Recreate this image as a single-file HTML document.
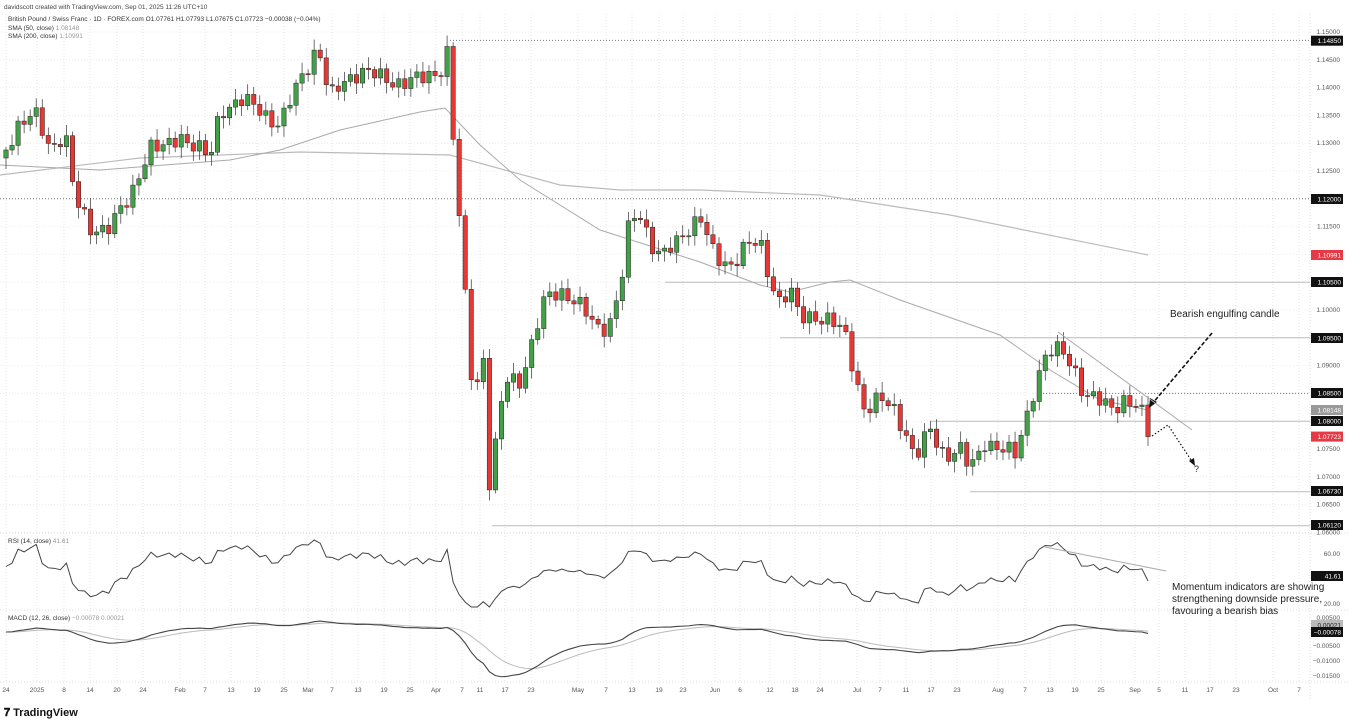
<!DOCTYPE html>
<html><head><meta charset="utf-8"><style>
body{margin:0;background:#fff;width:1350px;height:726px;overflow:hidden;font-family:"Liberation Sans",sans-serif}
svg{position:absolute;left:0;top:0}
</style></head><body>
<svg id="s" width="1350" height="726" xmlns="http://www.w3.org/2000/svg" font-family="Liberation Sans, sans-serif">
<g id="grid"></g>
<g id="lines" fill="none"></g>
<g id="c"></g>
<g id="ind" fill="none"></g>
<g id="ax" font-size="6.5" fill="#555"></g>
<text x="4" y="9" font-size="6.5" fill="#444">davidscott created with TradingView.com, Sep 01, 2025 11:26 UTC+10</text>
<text x="8" y="21" font-size="6.5" fill="#333">British Pound / Swiss Franc · 1D · FOREX.com  O1.07761  H1.07793  L1.07675  C1.07723  −0.00038 (−0.04%)</text>
<text x="8" y="30" font-size="6.5" fill="#333">SMA (50, close) <tspan fill="#999">1.08148</tspan></text>
<text x="8" y="38" font-size="6.5" fill="#333">SMA (200, close) <tspan fill="#999">1.10991</tspan></text>
<text x="8" y="543" font-size="6.5" fill="#333">RSI (14, close) <tspan fill="#999">41.61</tspan></text>
<text x="8" y="620" font-size="6.5" fill="#333">MACD (12, 26, close) <tspan fill="#999">−0.00078  0.00021</tspan></text>
<text x="1170" y="317" font-size="10" fill="#222">Bearish engulfing candle</text>
<text x="1172" y="590" font-size="10" fill="#222">Momentum indicators are showing</text>
<text x="1172" y="602" font-size="10" fill="#222">strengthening downside pressure,</text>
<text x="1172" y="614" font-size="10" fill="#222">favouring a bearish bias</text>
<text x="1194" y="472" font-size="9" fill="#222">?</text>
<line x1="1212" y1="333" x2="1152" y2="404" stroke="#111" stroke-width="1.6" stroke-dasharray="4,2"/>
<polygon points="1149,408 1150,398 1157,402" fill="#111"/>
<polyline points="1152,436 1168,425 1193,463" fill="none" stroke="#111" stroke-width="1.2" stroke-dasharray="1.5,2"/>
<polygon points="1195,466 1189,461 1194,458" fill="#111"/>
<line x1="1058" y1="332" x2="1192" y2="430" stroke="#aaa" stroke-width="1"/>
<line x1="1045" y1="547" x2="1166" y2="571" stroke="#aaa" stroke-width="1"/>
<text x="4" y="716" font-size="11" font-weight="bold" fill="#111">𝟕 TradingView</text>
</svg>
<script>
const NS="http://www.w3.org/2000/svg";
function el(p,t,a,txt){const e=document.createElementNS(NS,t);for(const k in a)e.setAttribute(k,a[k]);if(txt!=null)e.textContent=txt;document.getElementById(p).appendChild(e);return e;}
const Y=p=>310+(1.1-p)*5560;
// grid
const xs=[[6,"24"],[37,"2025"],[64,"8"],[90,"14"],[117,"20"],[143,"24"],[180,"Feb"],[205,"7"],[231,"13"],[257,"19"],[284,"25"],[308,"Mar"],[332,"7"],[358,"13"],[384,"19"],[410,"25"],[436,"Apr"],[462,"7"],[480,"11"],[505,"17"],[531,"23"],[578,"May"],[606,"7"],[632,"13"],[659,"19"],[683,"23"],[715,"Jun"],[740,"6"],[770,"12"],[795,"18"],[820,"24"],[857,"Jul"],[880,"7"],[906,"11"],[931,"17"],[957,"23"],[998,"Aug"],[1025,"7"],[1050,"13"],[1075,"19"],[1101,"25"],[1135,"Sep"],[1159,"5"],[1185,"11"],[1210,"17"],[1236,"23"],[1273,"Oct"],[1299,"7"]];
xs.forEach(([x,t])=>{el("grid","line",{x1:x,y1:14,x2:x,y2:682,stroke:"#e4e4e4","stroke-dasharray":"1,2"});el("ax","text",{x:x,y:692,"text-anchor":"middle"},t);});
for(let p=1.06;p<=1.1501;p+=0.005){const y=Y(p);el("grid","line",{x1:0,y1:y,x2:1310,y2:y,stroke:"#ececec","stroke-dasharray":"1,2"});el("ax","text",{x:1340,y:y+2,"text-anchor":"end"},p.toFixed(5));}
[[533],[610],[682]].forEach(([y])=>el("grid","line",{x1:0,y1:y,x2:1350,y2:y,stroke:"#ddd","stroke-dasharray":"1,2"}));
el("grid","line",{x1:1310,y1:14,x2:1310,y2:700,stroke:"#ddd","stroke-dasharray":"1,2"});
[[554,"60.00"],[604,"20.00"],[618,"0.00500"],[646,"−0.00500"],[661,"−0.01000"],[676,"−0.01500"]].forEach(([y,t])=>el("ax","text",{x:1340,y:y+2,"text-anchor":"end"},t));
// horizontal levels
[[1.1485,450,"1,2"],[1.12,0,"1,2"],[1.105,665,null],[1.095,780,null],[1.085,1040,"1,2"],[1.08,930,null],[1.0673,970,null],[1.0612,492,null]].forEach(([p,x,d])=>{const a={x1:x,y1:Y(p),x2:1310,y2:Y(p),stroke:d?"#777":"#bbb","stroke-width":1};if(d)a["stroke-dasharray"]=d;el("lines","line",a);});
// keyframes
const K=[[6,150],[20,120],[35,115],[50,150],[65,130],[75,200],[90,230],[110,225],[130,200],[140,170],[150,145],[165,150],[180,135],[195,145],[210,160],[220,110],[240,100],[260,110],[280,125],[300,80],[318,45],[330,100],[345,80],[360,70],[380,78],[400,82],[420,80],[440,70],[448,50],[455,170],[462,250],[468,340],[475,410],[482,320],[488,490],[495,450],[505,380],[520,380],[530,350],[545,300],[560,290],[575,300],[590,320],[600,330],[610,320],[620,290],[630,220],[640,215],[655,250],[665,255],[680,240],[690,225],[700,215],[715,260],[730,265],[745,245],[760,245],[770,280],[780,300],[790,290],[800,320],[815,315],[830,320],[845,335],[855,375],[865,410],[880,400],[895,410],[905,430],[915,460],[930,430],[945,455],[960,450],[970,470],[985,440],[1000,450],[1015,455],[1025,420],[1035,385],[1045,360],[1055,350],[1065,350],[1075,370],[1085,400],[1100,400],[1115,405],[1125,402],[1135,410],[1141,400],[1148,436.6]];
function interp(x){for(let i=0;i<K.length-1;i++){if(x<=K[i+1][0]){const t=(x-K[i][0])/(K[i+1][0]-K[i][0]);return K[i][1]+t*(K[i+1][1]-K[i][1]);}}return K[K.length-1][1];}
const n=190,step=(1148-6)/(n-1);let closes=[],xsC=[];
for(let i=0;i<n;i++){const x=6+i*step;xsC.push(x);let y=interp(x);if(i<n-2)y+=Math.sin(i*2.3)*7+Math.sin(i*0.9)*4;closes.push(y);}
let prev=closes[0]+8;
for(let i=0;i<n;i++){const o=prev,c=closes[i];const up=c<o;const hi=Math.min(o,c)-3-Math.abs(Math.sin(i*1.7))*8,lo=Math.max(o,c)+3+Math.abs(Math.cos(i*1.3))*8;const x=xsC[i];
el("c","line",{x1:x,y1:hi,x2:x,y2:lo,stroke:"#333","stroke-width":0.7});
el("c","rect",{x:x-2.2,y:Math.min(o,c),width:4.4,height:Math.max(1,Math.abs(c-o)),fill:up?"#43a047":"#e53935",stroke:"#222","stroke-width":0.5});prev=c;}
// SMAs
const s200=[[0,175],[140,158],[300,152],[450,155],[560,185],[620,190],[700,190],[820,195],[950,215],[1148,255]];
const s50=[[0,165],[100,170],[230,160],[280,150],[340,130],[420,112],[445,108],[480,145],[520,180],[600,230],[700,262],[760,285],[790,292],[830,282],[850,280],[900,300],[1000,335],[1050,370],[1100,400],[1148,410]];
el("lines","polyline",{points:s200.map(p=>p.join(",")).join(" "),stroke:"#bbb","stroke-width":1.2});
el("lines","polyline",{points:s50.map(p=>p.join(",")).join(" "),stroke:"#aaa","stroke-width":1});
// RSI/MACD from prices
const P=closes.map(y=>1.1-(y-310)/5560);
let ag=0.0006,al=0.0006,rsi=[];for(let i=0;i<n;i++){const d=i?P[i]-P[i-1]:0;ag=(ag*13+Math.max(d,0))/14;al=(al*13+Math.max(-d,0))/14;rsi.push(100-100/(1+ag/al));}
const ema=(a,k)=>{let r=[],e=a[0];a.forEach(v=>{e=e+(2/(k+1))*(v-e);r.push(e);});return r;};
const e12=ema(P,12),e26=ema(P,26);const m=e12.map((v,i)=>v-e26[i]);const sg=ema(m,9);
const ry=v=>554+(60-v)*1.25, my=v=>632-v*2800;
el("ind","polyline",{points:rsi.map((v,i)=>xsC[i]+","+Math.max(540,Math.min(607,ry(v)))).join(" "),stroke:"#444","stroke-width":1});
el("ind","polyline",{points:sg.map((v,i)=>xsC[i]+","+my(v)).join(" "),stroke:"#bbb","stroke-width":1});
el("ind","polyline",{points:m.map((v,i)=>xsC[i]+","+my(v)).join(" "),stroke:"#444","stroke-width":1.1});
// labels
function lab(y,t,bg,fg){el("ax","rect",{x:1311,y:y-5,width:32,height:10,fill:bg});el("ax","text",{x:1341,y:y+2.5,"text-anchor":"end",fill:fg||"#fff"},t);}
lab(40.7,"1.14850","#111");lab(199,"1.12000","#111");lab(255,"1.10991","#e53945");lab(282,"1.10500","#111");lab(338,"1.09500","#111");lab(393,"1.08500","#111");lab(410,"1.08148","#999");lab(421,"1.08000","#111");lab(436.6,"1.07723","#e53945");lab(491,"1.06730","#111");lab(525,"1.06120","#111");
lab(576,"41.61","#111");lab(625,"0.00021","#bbb","#222");lab(632,"−0.00078","#111");
</script>
</body></html>
